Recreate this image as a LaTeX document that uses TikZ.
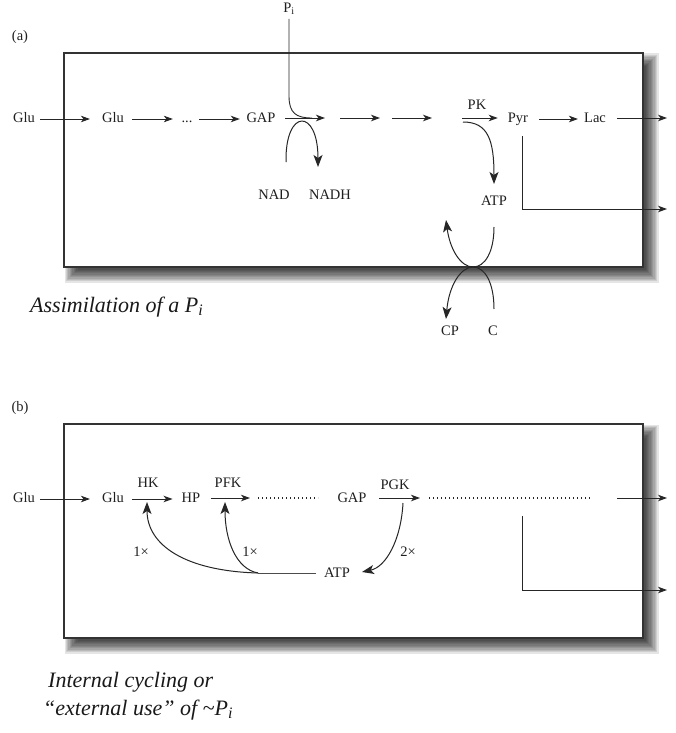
\documentclass[tikz,border=0pt]{standalone}
\usepackage{fontspec}
\setmainfont{Liberation Serif}
\usetikzlibrary{arrows.meta}
\begin{document}
\begin{tikzpicture}[x=1pt,y=-1pt,
  lbl/.style={font=\fontsize{14.5}{16}\selectfont, inner sep=1pt, text=black!88, text height=10pt, text depth=3pt},
  ln/.style={draw=black!85, line width=0.9pt},
  ar/.style={ln, -{Stealth[length=9pt,width=6.5pt,inset=2.5pt]}},
  bigar/.style={ln, line width=1pt, -{Stealth[length=12pt,width=9pt,inset=3pt]}},
  dotline/.style={draw=black!85, line width=1.3pt, dash pattern=on 1.2pt off 2.8pt},
  captext/.style={font=\fontsize{22}{26}\selectfont\itshape, inner sep=0pt, text=black!90},
  cellbox/.style={draw=black!80, line width=1.1pt, fill=white},
  shadowlayer/.style={fill=black, opacity=0.1}]
\useasboundingbox (0,0) rectangle (676,733);

% ---------------- shadows and boxes
\foreach \e in {7.5,6.2,...,-6} {
  \fill[shadowlayer] ({72-(\e)},{61-(\e)}) rectangle ({651+(\e)},{275+(\e)});
  \fill[shadowlayer] ({72-(\e)},{432-(\e)}) rectangle ({651+(\e)},{646+(\e)});
}
\draw[cellbox] (64,53) rectangle (643,267);
\draw[cellbox] (64,424) rectangle (643,638);

% ---------------- panel (a)
\node[lbl] (la) at (20,37) {(a)};
\node[lbl] (aglu0) at (24,119) {Glu};
\node[lbl] (aglu1) at (113,119) {Glu};
\node[lbl] (adots) at (187,119) {...};
\node[lbl] (agap) at (261,119) {GAP};
\node[lbl] (api) at (289,9) {P\textsubscript{i}};
\node[lbl] (anad) at (274,196) {NAD};
\node[lbl] (anadh) at (330,196) {NADH};
\node[lbl] (apk) at (477,106) {PK};
\node[lbl] (apyr) at (518,119) {Pyr};
\node[lbl] (alac) at (595,119) {Lac};
\node[lbl] (aatp) at (494,202) {ATP};
\node[lbl] (acp) at (450,332) {CP};
\node[lbl] (ac) at (493,332) {C};

\coordinate (am1) at (325,118);
\coordinate (am2s) at (340,118);
\coordinate (am2e) at (380,118);
\coordinate (am3s) at (392,118);
\coordinate (am3e) at (432,118);
\coordinate (apks) at (462,118);
\coordinate (aout1) at (667,118);
\coordinate (apyrb) at (522,136);
\coordinate (aout2) at (667,209);

\draw[ar, shorten <=4pt, shorten >=11pt] (aglu0) -- (aglu1);
\draw[ar, shorten <=7pt, shorten >=7.5pt] (aglu1) -- (adots);
\draw[ar, shorten <=5.5pt, shorten >=5.5pt] (adots) -- (agap);
\draw[ar, shorten <=8.5pt] (agap.east |- am1) -- (am1);
\draw[ar] (am2s) -- (am2e);
\draw[ar] (am3s) -- (am3e);
\draw[ar, shorten >=9pt] (apks) -- (apyr.west |- apks);
\draw[ar, shorten <=10pt, shorten >=5pt] (apyr) -- (alac);
\draw[ar, shorten <=10pt] (alac.east |- aout1) -- (aout1);
\draw[ar] (apyrb) |- (aout2);

% Pi entering
\draw[ln] (289,19) -- (289,96) .. controls (289,113) and (296,118) .. (312,118);
% NAD -> NADH
\draw[bigar] (286,162) .. controls (285,108) and (318,108) .. (318,167);
% PK -> ATP
\draw[bigar] (463,122) .. controls (488,122) and (494,140) .. (494,184);
% ATP / CP cycle
\draw[bigar] (494,227) .. controls (494,252) and (485,267) .. (473,267)
   .. controls (461,267) and (450,250) .. (446,220);
\draw[bigar] (494,309) .. controls (494,283) and (485,267) .. (473,267)
   .. controls (461,267) and (449,285) .. (446,319);

\node[captext, anchor=base west] (capa) at (30,312) {Assimilation of a P\raisebox{-0.35ex}{\fontsize{16}{16}\selectfont i}};

% ---------------- panel (b)
\node[lbl] (lb) at (20,408) {(b)};
\node[lbl] (bglu0) at (24,499) {Glu};
\node[lbl] (bglu1) at (113,499) {Glu};
\node[lbl] (bhk) at (148,484) {HK};
\node[lbl] (bhp) at (191,499) {HP};
\node[lbl] (bpfk) at (228,484) {PFK};
\node[lbl] (bgap) at (352,499) {GAP};
\node[lbl] (bpgk) at (395,486) {PGK};
\node[lbl] (batp) at (337,574) {ATP};
\node[lbl] (bx1) at (141,553) {1×};
\node[lbl] (bx2) at (250,553) {1×};
\node[lbl] (bx3) at (408,553) {2×};

\coordinate (bpfke) at (250,498);
\coordinate (bd1s) at (258,498);
\coordinate (bd1e) at (318,498);
\coordinate (bpgke) at (420,498);
\coordinate (bd2s) at (429,498);
\coordinate (bd2e) at (592,498);
\coordinate (bo1s) at (617,498);
\coordinate (bout1) at (667,498);
\coordinate (bbr) at (522,516);
\coordinate (bout2) at (667,590);
\coordinate (bj) at (258,573);
\coordinate (bhkt) at (147,502);
\coordinate (bpfkt) at (225,502);
\coordinate (bpgks) at (403,503);
\coordinate (batpin) at (362,572);

\draw[ar, shorten <=4pt, shorten >=11pt] (bglu0) -- (bglu1);
\draw[ar, shorten <=7pt, shorten >=8pt] (bglu1) -- (bhp);
\draw[ar, shorten <=9.5pt] (bhp.east |- bpfke) -- (bpfke);
\draw[dotline] (bd1s) -- (bd1e);
\draw[ar, shorten <=11.5pt] (bgap.east |- bpgke) -- (bpgke);
\draw[dotline] (bd2s) -- (bd2e);
\draw[ar] (bo1s) -- (bout1);
\draw[ar] (bbr) |- (bout2);

\draw[bigar] (bpgks) .. controls (401,540) and (386,567) .. (batpin);
\draw[ln, draw=black!70, shorten <=7pt] (batp.west |- bj) -- (bj);
\draw[bigar] (bj) .. controls (185,571) and (147,545) .. (bhkt);
\draw[bigar] (bj) .. controls (236,569) and (225,540) .. (bpfkt);

\node[captext, anchor=base west] (capb1) at (48,687) {Internal cycling or};
\node[captext, anchor=base west] (capb2) at (43,715) {“external use” of \char"7E P\raisebox{-0.35ex}{\fontsize{16}{16}\selectfont i}};
\end{tikzpicture}
\end{document}
